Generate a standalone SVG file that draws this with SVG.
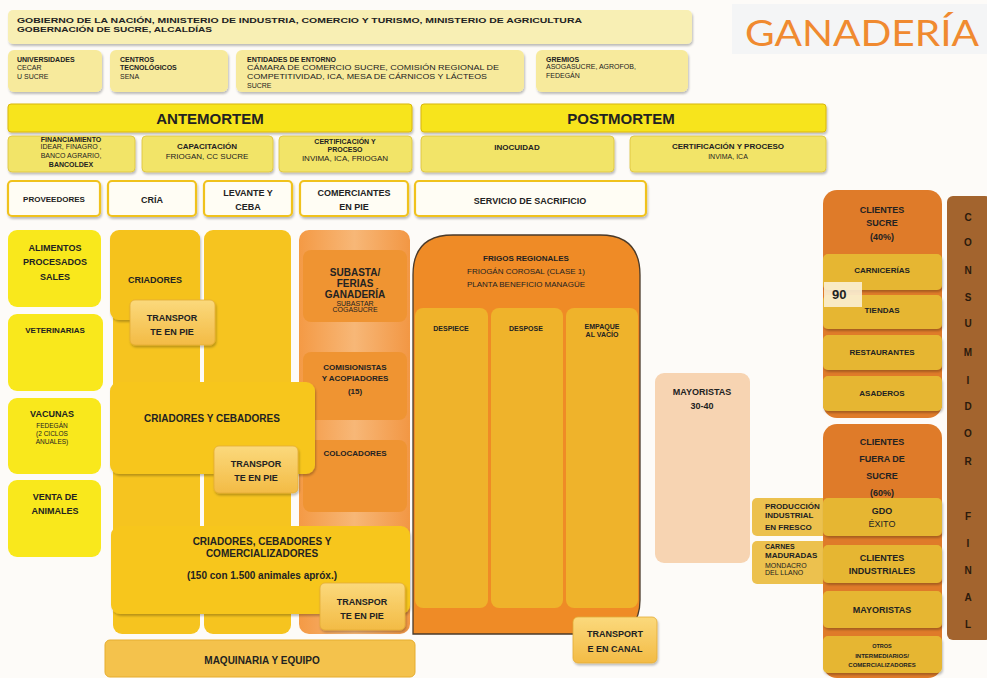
<svg xmlns="http://www.w3.org/2000/svg" width="987" height="678" viewBox="0 0 987 678">
<defs>
<filter id="sh" x="-10%" y="-10%" width="125%" height="130%">
<feDropShadow dx="1" dy="2" stdDeviation="1.2" flood-color="#000" flood-opacity="0.25"/>
</filter>
<linearGradient id="gCom" x1="0" y1="0" x2="1" y2="0">
<stop offset="0" stop-color="#f49a45"/><stop offset="0.5" stop-color="#f7b777"/><stop offset="1" stop-color="#f29744"/>
</linearGradient>
<linearGradient id="gTr" x1="0" y1="0" x2="0" y2="1">
<stop offset="0" stop-color="#fbd97c"/><stop offset="1" stop-color="#f3bb45"/>
</linearGradient>
<style>
text{font-family:"Liberation Sans",Arial,sans-serif;fill:#222}
.b{font-weight:bold}
.c{text-anchor:middle}
.s7{font-size:7px}
.s8{font-size:8px}
.s9{font-size:9px}
.s10{font-size:10px}
.s11{font-size:11px}
.top{fill:#f8efb4}
.row2{fill:#f7ea9c}
.hdr{fill:#f7e41f;stroke:#d9b60a;stroke-width:1}
.row3{fill:#f2e468;stroke:#dcc23a;stroke-width:0.8}
.row4{fill:#fffdf4;stroke:#f0c21e;stroke-width:2.2}
.lc{fill:#f9e81c}
.col{fill:#f6c41f}
.tr{fill:url(#gTr);stroke:#e3ac35;stroke-width:0.8}
.inr{fill:#ef9432}
.fcol{fill:#efb32b}
.cli{fill:#df7b29}
.cin{fill:#e6b633}
.cons{font-size:10px;font-weight:bold;fill:#2b1a0c;text-anchor:middle}
</style>
</defs>
<rect x="0" y="0" width="987" height="678" fill="#fdfbf8"/>
<rect x="732" y="4" width="255" height="50" fill="#f4f5f6"/>

<g id="gobierno">
<rect class="top" x="8" y="10" width="684" height="34" rx="5" filter="url(#sh)"/>
<text class="b s8" x="17" y="23" textLength="565" lengthAdjust="spacingAndGlyphs">GOBIERNO DE LA NACIÓN, MINISTERIO DE INDUSTRIA, COMERCIO Y TURISMO, MINISTERIO DE AGRICULTURA</text>
<text class="b s8" x="17" y="32" textLength="195" lengthAdjust="spacingAndGlyphs">GOBERNACIÓN DE SUCRE, ALCALDÍAS</text>
</g>
<g id="ganaderia">
<text x="862" y="46" font-size="37" text-anchor="middle" style="font-family:Lato,'Open Sans',sans-serif;fill:#f08a30" textLength="234" lengthAdjust="spacingAndGlyphs">GANADERÍA</text>
</g>
<g id="universidades">
<rect class="row2" x="8" y="50" width="94" height="42" rx="6" filter="url(#sh)"/>
<text class="b s7" x="17" y="62">UNIVERSIDADES</text>
<text class="s7" x="17" y="70">CECAR</text>
<text class="s7" x="17" y="79">U SUCRE</text>
</g>
<g id="centros">
<rect class="row2" x="110" y="50" width="118" height="42" rx="6" filter="url(#sh)"/>
<text class="b s7" x="120" y="62">CENTROS</text>
<text class="b s7" x="120" y="70">TECNOLÓGICOS</text>
<text class="s7" x="120" y="79">SENA</text>
</g>
<g id="entidades">
<rect class="row2" x="236" y="50" width="288" height="42" rx="6" filter="url(#sh)"/>
<text class="b s7" x="247" y="62">ENTIDADES DE ENTORNO</text>
<text class="s7" x="247" y="70" textLength="252" lengthAdjust="spacingAndGlyphs">CÁMARA DE COMERCIO SUCRE, COMISIÓN REGIONAL DE</text>
<text class="s7" x="247" y="79" textLength="240" lengthAdjust="spacingAndGlyphs">COMPETITIVIDAD, ICA, MESA DE CÁRNICOS Y LÁCTEOS</text>
<text class="s7" x="247" y="88">SUCRE</text>
</g>
<g id="gremios">
<rect class="row2" x="536" y="50" width="152" height="42" rx="6" filter="url(#sh)"/>
<text class="b s7" x="546" y="62">GREMIOS</text>
<text class="s7" x="546" y="69">ASOGASUCRE, AGROFOB,</text>
<text class="s7" x="546" y="78">FEDEGÁN</text>
</g>

<g id="antemortem">
<rect class="hdr" x="8" y="104" width="404" height="28" rx="3" filter="url(#sh)"/>
<text class="b c" x="210" y="124" font-size="15">ANTEMORTEM</text>
</g>
<g id="postmortem">
<rect class="hdr" x="421" y="104" width="405" height="28" rx="3" filter="url(#sh)"/>
<text class="b c" x="621" y="124" font-size="15">POSTMORTEM</text>
</g>

<g id="financiamiento">
<rect class="row3" x="8" y="136" width="127" height="36" rx="4" filter="url(#sh)"/>
<text class="b c s7" x="71" y="142">FINANCIAMIENTO</text>
<text class="c s7" x="71" y="149">IDEAR, FINAGRO ,</text>
<text class="c s7" x="71" y="158">BANCO AGRARIO,</text>
<text class="b c s7" x="71" y="167">BANCOLDEX</text>
</g>
<g id="capacitacion">
<rect class="row3" x="142" y="136" width="131" height="36" rx="4" filter="url(#sh)"/>
<text class="b c s8" x="207" y="149">CAPACITACIÓN</text>
<text class="c s8" x="207" y="159">FRIOGAN, CC SUCRE</text>
</g>
<g id="certificacion1">
<rect class="row3" x="279" y="136" width="133" height="36" rx="4" filter="url(#sh)"/>
<text class="b c s7" x="345" y="144">CERTIFICACIÓN Y</text>
<text class="b c s7" x="345" y="152">PROCESO</text>
<text class="c s8" x="345" y="161">INVIMA, ICA, FRIOGAN</text>
</g>
<g id="inocuidad">
<rect class="row3" x="421" y="136" width="193" height="36" rx="4" filter="url(#sh)"/>
<text class="b c s8" x="517" y="150">INOCUIDAD</text>
</g>
<g id="certificacion2">
<rect class="row3" x="630" y="136" width="196" height="36" rx="4" filter="url(#sh)"/>
<text class="b c s8" x="728" y="149">CERTIFICACIÓN Y PROCESO</text>
<text class="c s7" x="728" y="159">INVIMA, ICA</text>
</g>

<g id="proveedores">
<rect class="row4" x="8" y="181" width="92" height="35" rx="4" filter="url(#sh)"/>
<text class="b c s8" x="54" y="202">PROVEEDORES</text>
</g>
<g id="cria">
<rect class="row4" x="108" y="181" width="88" height="35" rx="4" filter="url(#sh)"/>
<text class="b c s9" x="152" y="203">CRÍA</text>
</g>
<g id="levante">
<rect class="row4" x="204" y="181" width="88" height="35" rx="4" filter="url(#sh)"/>
<text class="b c s9" x="248" y="196">LEVANTE Y</text>
<text class="b c s9" x="248" y="210">CEBA</text>
</g>
<g id="comerciantes">
<rect class="row4" x="300" y="181" width="108" height="35" rx="4" filter="url(#sh)"/>
<text class="b c s9" x="354" y="196">COMERCIANTES</text>
<text class="b c s9" x="354" y="210">EN PIE</text>
</g>
<g id="servicio">
<rect class="row4" x="415" y="181" width="231" height="35" rx="4" filter="url(#sh)"/>
<text class="b c s9" x="530" y="204">SERVICIO DE SACRIFICIO</text>
</g>

<g id="alimentos">
<rect class="lc" x="8" y="230" width="93" height="77" rx="9"/>
<text class="b c s9" x="55" y="251">ALIMENTOS</text>
<text class="b c s9" x="55" y="265">PROCESADOS</text>
<text class="b c s9" x="55" y="280">SALES</text>
</g>
<g id="veterinarias">
<rect class="lc" x="8" y="314" width="95" height="77" rx="9"/>
<text class="b c s8" x="55" y="333">VETERINARIAS</text>
</g>
<g id="vacunas">
<rect class="lc" x="8" y="398" width="93" height="76" rx="9"/>
<text class="b c s9" x="52" y="417">VACUNAS</text>
<text class="c" font-size="6.5" x="52" y="428">FEDEGÁN</text>
<text class="c" font-size="6.5" x="52" y="436">(2 CICLOS</text>
<text class="c" font-size="6.5" x="52" y="444">ANUALES)</text>
</g>
<g id="venta">
<rect class="lc" x="8" y="480" width="93" height="77" rx="9"/>
<text class="b c s9" x="55" y="500">VENTA DE</text>
<text class="b c s9" x="55" y="514">ANIMALES</text>
</g>

<g id="col-cria">
<rect class="col" x="113" y="230" width="87" height="404" rx="9"/>
</g>
<g id="col-levante">
<rect class="col" x="204" y="230" width="87" height="404" rx="9"/>
</g>
<g id="col-comerciantes">
<rect x="299" y="230" width="111" height="404" rx="10" fill="url(#gCom)"/>
</g>
<g id="criadores">
<rect x="110" y="230" width="90" height="90" rx="9" fill="#f5c21e" filter="url(#sh)"/>
<text class="b c s9" x="155" y="283">CRIADORES</text>
</g>
<g id="transporte1">
<rect class="tr" x="130" y="300" width="85" height="45" rx="5" filter="url(#sh)"/>
<text class="b c s9" x="172" y="321">TRANSPOR</text>
<text class="b c s9" x="172" y="335">TE EN PIE</text>
</g>
<g id="subasta">
<rect class="inr" x="303" y="250" width="104" height="72" rx="8"/>
<text class="b c s10" x="355" y="276">SUBASTA/</text>
<text class="b c s10" x="355" y="287">FERIAS</text>
<text class="b c s10" x="355" y="298">GANADERÍA</text>
<text class="c s7" x="355" y="306">SUBASTAR</text>
<text class="c s7" x="355" y="312">COGASUCRE</text>
</g>
<g id="comisionistas">
<rect class="inr" x="303" y="352" width="104" height="68" rx="8"/>
<text class="b c s8" x="355" y="370">COMISIONISTAS</text>
<text class="b c s8" x="355" y="381">Y ACOPIADORES</text>
<text class="b c s8" x="355" y="394">(15)</text>
</g>
<g id="colocadores">
<rect class="inr" x="303" y="440" width="104" height="72" rx="8"/>
<text class="b c s8" x="355" y="456">COLOCADORES</text>
</g>
<g id="criadores-cebadores">
<rect x="110" y="382" width="205" height="92" rx="9" fill="#f7c61f" filter="url(#sh)"/>
<text class="b c s10" x="212" y="422">CRIADORES Y CEBADORES</text>
</g>
<g id="transporte2">
<rect class="tr" x="214" y="446" width="84" height="47" rx="5" filter="url(#sh)"/>
<text class="b c s9" x="256" y="467">TRANSPOR</text>
<text class="b c s9" x="256" y="481">TE EN PIE</text>
</g>
<g id="criadores-cebadores-comercializadores">
<rect x="111" y="526" width="299" height="88" rx="9" fill="#f7c61f" filter="url(#sh)"/>
<text class="b c s10" x="262" y="545">CRIADORES, CEBADORES Y</text>
<text class="b c s10" x="262" y="557">COMERCIALIZADORES</text>
<text class="b c s10" x="262" y="579">(150 con 1.500 animales apróx.)</text>
</g>
<g id="transporte3">
<rect class="tr" x="320" y="583" width="85" height="47" rx="5" filter="url(#sh)"/>
<text class="b c s9" x="362" y="605">TRANSPOR</text>
<text class="b c s9" x="362" y="619">TE EN PIE</text>
</g>
<g id="maquinaria">
<rect x="105" y="640" width="310" height="37" rx="5" fill="#f4c24c" stroke="#e6ad2e" stroke-width="1"/>
<text class="b c s10" x="262" y="664">MAQUINARIA Y EQUIPO</text>
</g>

<g id="frigos">
<path d="M413,634 V275 Q413,235 453,235 H600 Q640,235 640,275 V600 Q640,634 606,634 Z" fill="#ef8b26" stroke="#4a3a2a" stroke-width="1.3"/>
<text class="b c s8" x="526" y="261">FRIGOS REGIONALES</text>
<text class="c s8" x="526" y="274">FRIOGÁN COROSAL (CLASE 1)</text>
<text class="c s8" x="526" y="287">PLANTA BENEFICIO MANAGÜE</text>
</g>
<g id="despiece">
<rect class="fcol" x="415" y="308" width="73" height="300" rx="8"/>
<text class="b c s7" x="451" y="331">DESPIECE</text>
</g>
<g id="despose">
<rect class="fcol" x="491" y="308" width="72" height="300" rx="8"/>
<text class="b c s7" x="526" y="331">DESPOSE</text>
</g>
<g id="empaque">
<rect class="fcol" x="566" y="308" width="72" height="300" rx="8"/>
<text class="b c s7" x="602" y="329">EMPAQUE</text>
<text class="b c s7" x="602" y="337">AL VACÍO</text>
</g>
<g id="transporte-canal">
<rect class="tr" x="573" y="617" width="84" height="46" rx="5" filter="url(#sh)"/>
<text class="b c s9" x="615" y="637">TRANSPORT</text>
<text class="b c s9" x="615" y="652">E EN CANAL</text>
</g>
<g id="mayoristas">
<rect x="655" y="373" width="95" height="190" rx="9" fill="#f7d4b2"/>
<text class="b c s9" x="702" y="395">MAYORISTAS</text>
<text class="b c s9" x="702" y="409">30-40</text>
</g>
<g id="produccion">
<rect x="752" y="498" width="88" height="38" rx="5" fill="#ecc14e"/>
<text class="b s8" x="765" y="509">PRODUCCIÓN</text>
<text class="b s8" x="765" y="518">INDUSTRIAL</text>
<text class="b s8" x="765" y="530">EN FRESCO</text>
</g>
<g id="carnes">
<rect x="752" y="541" width="88" height="43" rx="5" fill="#ecc14e"/>
<text class="b s7" x="765" y="549">CARNES</text>
<text class="b s8" x="765" y="558">MADURADAS</text>
<text class="s7" x="765" y="568">MONDACRO</text>
<text class="s7" x="765" y="575">DEL LLANO</text>
</g>

<g id="clientes-sucre">
<rect class="cli" x="823" y="190" width="119" height="228" rx="14"/>
<text class="b c s9" x="882" y="213">CLIENTES</text>
<text class="b c s9" x="882" y="226">SUCRE</text>
<text class="b c s9" x="882" y="240">(40%)</text>
</g>
<g id="carnicerias">
<rect class="cin" x="823" y="254" width="119" height="36" rx="5" filter="url(#sh)"/>
<text class="b c s8" x="882" y="273">CARNICERÍAS</text>
</g>
<g id="tiendas">
<rect class="cin" x="823" y="295" width="119" height="34" rx="5" filter="url(#sh)"/>
<text class="b c s8" x="882" y="313">TIENDAS</text>
</g>
<g id="noventa">
<rect x="824" y="282" width="38" height="25" fill="#fbf0d4" opacity="0.9"/>
<text class="b" x="832" y="299" font-size="13">90</text>
</g>
<g id="restaurantes">
<rect class="cin" x="823" y="335" width="119" height="35" rx="5" filter="url(#sh)"/>
<text class="b c s8" x="882" y="355">RESTAURANTES</text>
</g>
<g id="asaderos">
<rect class="cin" x="823" y="376" width="119" height="35" rx="5" filter="url(#sh)"/>
<text class="b c s8" x="882" y="396">ASADEROS</text>
</g>

<g id="clientes-fuera">
<rect class="cli" x="823" y="424" width="119" height="254" rx="14"/>
<text class="b c s9" x="882" y="445">CLIENTES</text>
<text class="b c s9" x="882" y="462">FUERA DE</text>
<text class="b c s9" x="882" y="479">SUCRE</text>
<text class="b c s9" x="882" y="496">(60%)</text>
</g>
<g id="gdo">
<rect class="cin" x="823" y="498" width="119" height="38" rx="5" filter="url(#sh)"/>
<text class="b c s9" x="882" y="514">GDO</text>
<text class="c s9" x="882" y="527">ÉXITO</text>
</g>
<g id="industriales">
<rect class="cin" x="823" y="545" width="119" height="38" rx="5" filter="url(#sh)"/>
<text class="b c s9" x="882" y="561">CLIENTES</text>
<text class="b c s9" x="882" y="574">INDUSTRIALES</text>
</g>
<g id="mayoristas2">
<rect class="cin" x="823" y="591" width="119" height="37" rx="5" filter="url(#sh)"/>
<text class="b c s9" x="882" y="613">MAYORISTAS</text>
</g>
<g id="otros">
<rect class="cin" x="823" y="636" width="119" height="37" rx="5" filter="url(#sh)"/>
<text class="b c" x="882" y="648" font-size="5.5">OTROS</text>
<text class="b c" x="882" y="658" font-size="6">INTERMEDIARIOS/</text>
<text class="b c" x="882" y="667" font-size="6">COMERCIALIZADORES</text>
</g>

<g id="consumidor">
<rect x="947" y="196" width="44" height="444" rx="6" fill="#a3642e"/>
<text class="cons" x="968" y="221">C</text>
<text class="cons" x="968" y="246">O</text>
<text class="cons" x="968" y="274">N</text>
<text class="cons" x="968" y="301">S</text>
<text class="cons" x="968" y="327">U</text>
<text class="cons" x="968" y="356">M</text>
<text class="cons" x="968" y="384">I</text>
<text class="cons" x="968" y="410">D</text>
<text class="cons" x="968" y="437">O</text>
<text class="cons" x="968" y="465">R</text>
<text class="cons" x="968" y="520">F</text>
<text class="cons" x="968" y="547">I</text>
<text class="cons" x="968" y="574">N</text>
<text class="cons" x="968" y="601">A</text>
<text class="cons" x="968" y="628">L</text>
</g>
<g id="connectors"></g>
</svg>
